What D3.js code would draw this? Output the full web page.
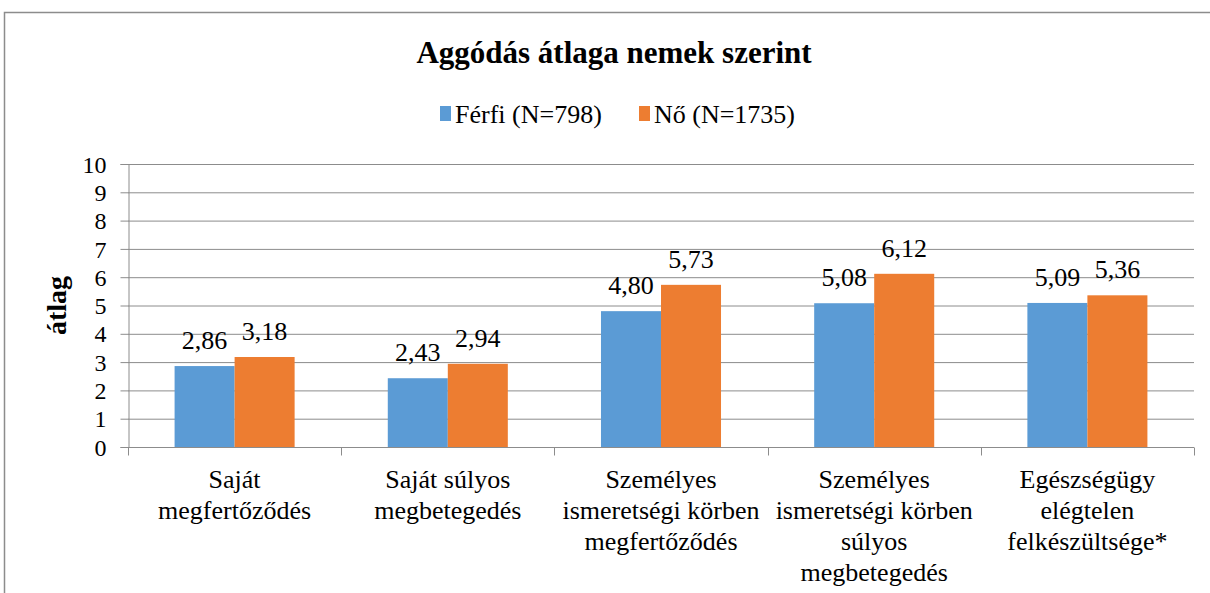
<!DOCTYPE html>
<html>
<head>
<meta charset="utf-8">
<script src="https://cdn.jsdelivr.net/npm/d3@7"></script>
<style>
  body { margin: 0; background: #fff; }
</style>
</head>
<body>
<svg id="chart" width="1210" height="593" font-family="Liberation Serif"></svg>
<script>
// Categories (x axis), one label line per entry
const categories = [
    ["Saját", "megfertőződés"],
    ["Saját súlyos", "megbetegedés"],
    ["Személyes", "ismeretségi körben", "megfertőződés"],
    ["Személyes", "ismeretségi körben", "súlyos", "megbetegedés"],
    ["Egészségügy", "elégtelen", "felkészültsége*"]
];
const seriesNames = ["Férfi (N=798)", "Nő (N=1735)"];
const ferfiValues = [2.86, 2.43, 4.80, 5.08, 5.09];
const noValues = [3.18, 2.94, 5.73, 6.12, 5.36];
const yTicks = [0, 1, 2, 3, 4, 5, 6, 7, 8, 9, 10];

const colors = ["#5b9bd5", "#ed7d31"];
const fontName = "Liberation Serif";

const svg = d3.select("#chart");
const margin = { top: 164, right: 16, bottom: 146, left: 128 };
const width = 1210 - margin.left - margin.right;
const height = 593 - margin.top - margin.bottom;

// outer chart border
svg.append("rect")
    .attr("x", 4.5).attr("y", 12.5)
    .attr("width", 1220).attr("height", 600)
    .attr("fill", "none").attr("stroke", "#8c8c8c").attr("stroke-width", 1.5);

svg.append("text")
    .attr("x", 614).attr("y", 63)
    .attr("text-anchor", "middle")
    .attr("font-family", fontName)
    .attr("font-size", 31).attr("font-weight", "bold")
    .text("Aggódás átlaga nemek szerint");

const g = svg.append("g").attr("transform", `translate(${margin.left},${margin.top})`);

const x0 = d3.scaleBand().domain(d3.range(categories.length)).range([0, width])
    .paddingInner(0.437).paddingOuter(0.2185);
const x1 = d3.scaleBand().domain([0, 1]).range([0, x0.bandwidth()]);
const y = d3.scaleLinear().domain([0, 10]).range([height, 0]);

// gridlines
g.append("g")
    .selectAll("line").data(yTicks.filter(d => d > 0)).join("line")
    .attr("x1", 0).attr("x2", width)
    .attr("y1", d => y(d) + 0.5).attr("y2", d => y(d) + 0.5)
    .attr("stroke", "#8c8c8c").attr("stroke-width", 1);

// y axis
const yAxis = g.append("g").attr("transform", "translate(0.5,0)")
    .call(d3.axisLeft(y).tickValues(yTicks).tickSize(8).tickPadding(14).tickFormat(d3.format("d")))
    .attr("font-family", fontName).attr("font-size", 24);
yAxis.selectAll("line, path").attr("stroke", "#8c8c8c");
yAxis.selectAll("text").attr("fill", "#000").attr("dy", "0.34em");

svg.append("text")
    .attr("transform", `translate(58,${margin.top + height / 2}) rotate(-90)`)
    .attr("text-anchor", "middle")
    .attr("dy", "0.3em")
    .attr("font-family", fontName)
    .attr("font-size", 28).attr("font-weight", "bold")
    .text("átlag");

const series = [ferfiValues, noValues];

// bars
series.forEach((vals, s) => {
    g.append("g").selectAll("rect").data(vals).join("rect")
        .attr("x", (d, i) => x0(i) + x1(s))
        .attr("y", d => y(d))
        .attr("width", x1.bandwidth())
        .attr("height", d => height - y(d))
        .attr("fill", colors[s]);
    g.append("g").selectAll("text").data(vals).join("text")
        .attr("x", (d, i) => x0(i) + x1(s) + x1.bandwidth() / 2)
        .attr("y", d => y(d) - 17)
        .attr("text-anchor", "middle")
        .attr("font-family", fontName)
        .attr("font-size", 26)
        .text(d => d3.format(".2f")(d).replace(".", ","));
});

// x axis
const xAxis = g.append("g").attr("transform", `translate(0,${height + 0.5})`);
xAxis.append("line").attr("x1", 0).attr("x2", width).attr("stroke", "#8c8c8c");
xAxis.selectAll(".tk").data(d3.range(categories.length + 1)).join("line")
    .attr("x1", i => Math.round(i * x0.step()) + 0.5).attr("x2", i => Math.round(i * x0.step()) + 0.5)
    .attr("y1", 0).attr("y2", 8).attr("stroke", "#8c8c8c");

const labels = xAxis.selectAll(".lab").data(categories).join("text")
    .attr("text-anchor", "middle")
    .attr("font-family", fontName)
    .attr("font-size", 26);
labels.selectAll("tspan").data((d, i) => d.map(t => ({ t, i }))).join("tspan")
    .attr("x", d => x0(d.i) + x0.bandwidth() / 2)
    .attr("y", (d, j) => 40 + j * 31)
    .text(d => d.t);

// legend
const legend = svg.append("g").attr("transform", "translate(440,114)");
const legX = [0, 199];
seriesNames.forEach((name, s) => {
    legend.append("rect").attr("x", legX[s]).attr("y", -8).attr("width", 11).attr("height", 15).attr("fill", colors[s]);
    legend.append("text").attr("x", legX[s] + 15).attr("y", 9)
        .attr("font-family", fontName)
        .attr("font-size", 26).text(name);
});
</script>
</body>
</html>
